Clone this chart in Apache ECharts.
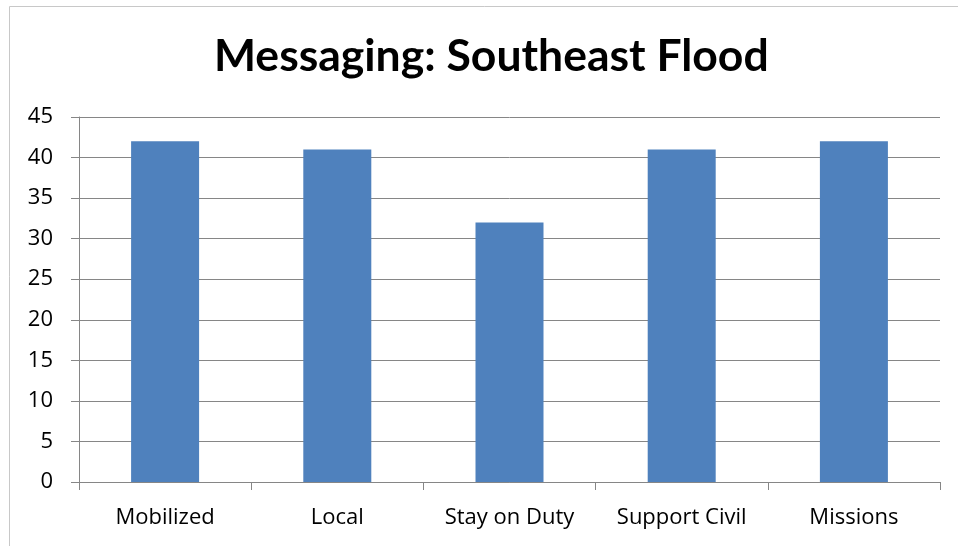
<!DOCTYPE html>
<html>
<head>
<meta charset="utf-8">
<script src="https://cdn.jsdelivr.net/npm/echarts@6/dist/echarts.min.js"></script>
<style>
html,body{margin:0;padding:0;background:#fff;}
#chart{width:958px;height:546px;}
</style>
</head>
<body>
<div id="chart"></div>
<script>
const titleText = 'Messaging: Southeast Flood';
const categories = ['Mobilized', 'Local', 'Stay on Duty', 'Support Civil', 'Missions'];
const values = [42, 41, 32, 41, 42];
const yTicks = {min: 0, max: 45, interval: 5};

const titleFont = 'Lato, "Open Sans", sans-serif';
const labelFont = '"Open Sans", Lato, sans-serif';
const chart = echarts.init(document.getElementById('chart'), null, {renderer: 'canvas'});
chart.setOption({
  animation: false,
  backgroundColor: '#ffffff',
  graphic: [{
    type: 'rect', silent: true,
    shape: {x: 9.5, y: 6.5, width: 1200, height: 1200},
    style: {fill: 'none', stroke: '#c8c8c8', lineWidth: 1}
  }],
  title: {
    text: titleText, left: 214, top: 34, padding: 0,
    textStyle: {fontFamily: titleFont, fontWeight: 'bold', fontSize: 44.5, color: '#000'}
  },
  grid: {left: 79, right: 18, top: 117, bottom: 64, containLabel: false},
  xAxis: {
    type: 'category', data: categories,
    axisLine: {lineStyle: {color: '#868686', width: 1}},
    axisTick: {show: true, length: 8, alignWithLabel: false, lineStyle: {color: '#868686'}},
    axisLabel: {fontFamily: labelFont, fontSize: 22, color: '#000', margin: 25, interval: 0}
  },
  yAxis: {
    type: 'value', min: yTicks.min, max: yTicks.max, interval: yTicks.interval,
    axisLine: {show: true, lineStyle: {color: '#868686', width: 1}},
    axisTick: {show: true, length: 8, lineStyle: {color: '#868686'}},
    splitLine: {lineStyle: {color: '#868686', width: 1}},
    axisLabel: {fontFamily: labelFont, fontSize: 22, color: '#000', margin: 26}
  },
  series: [{
    type: 'bar', data: values, barWidth: 68,
    itemStyle: {color: '#4F81BD'}
  }]
});
</script>
</body>
</html>
